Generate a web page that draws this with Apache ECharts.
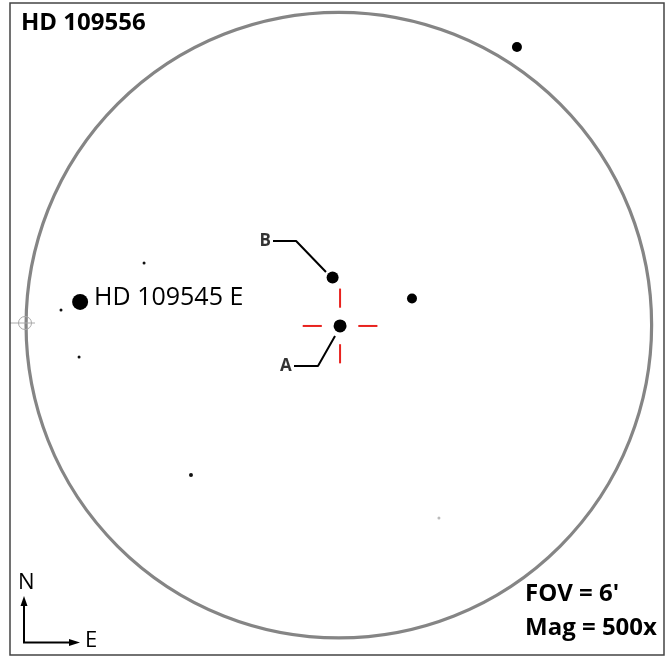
<!DOCTYPE html>
<html><head><meta charset="utf-8">
<script src="https://cdn.jsdelivr.net/npm/echarts@6/dist/echarts.min.js"></script>
<style>html,body{margin:0;padding:0;background:#fff}#c{width:669px;height:658px}</style>
</head><body><div id="c"></div>
<script>
// Star positions in arcseconds relative to the field centre (x: east, y: north)
const starNames = ['A', 'B', 'S3', 'S4', 'HD 109545 E', 's6', 's7', 's8', 's9', 's10'];
const starX = [0.7, -3.6, 42.1, 102.5, -148.9, -112.1, -159.9, -149.5, -85.1, 57.6];
const starY = [-0.5, 27.4, 15.3, 160.0, 13.3, 35.7, 8.7, -18.4, -86.3, -110.9];
const starSize = [13, 12, 10, 10, 16, 3, 3, 3, 4, 3];
const starColor = ['#000', '#000', '#000', '#000', '#000', '#111', '#111', '#111', '#111', '#bbb'];

// Field of view circle: centre and radius (arcsec), FOV = 6'
const fovCenter = [0, 0];
const fovRadius = 180;

// Crosshair centred on A: inner/outer offsets (arcsec)
const crossInner = 10.5;
const crossOuter = 21.5;

// Leader lines for labels
const leaderB = [[-37.9, 48.4], [-24.6, 48.4], [-7.4, 30.5]];
const leaderA = [[-25.8, -23.5], [-12.0, -23.5], [-2.2, -6.3]];
const labelPts = [[-38.5, 48.4, 'B'], [-26.5, -23.8, 'A']];

const chart = echarts.init(document.getElementById('c'), null, {renderer: 'canvas'});

const stars = starX.map((x, i) => ({
  value: [x, starY[i]],
  name: starNames[i],
  symbolSize: starSize[i],
  itemStyle: {color: starColor[i], opacity: 1},
  label: i === 4 ? {
    show: true, position: 'right', distance: 6, formatter: starNames[i],
    fontFamily: 'Open Sans', fontSize: 25, color: '#000', offset: [0, -4]
  } : {show: false}
}));

chart.setOption({
  animation: false,
  backgroundColor: '#fff',
  grid: {left: 0, right: 0, top: 0, bottom: 0},
  xAxis: {type: 'value', min: -195, max: 190, show: false},
  yAxis: {type: 'value', min: -191.5, max: 187, show: false},
  graphic: [
    {type: 'rect', shape: {x: 10, y: 3, width: 654, height: 652},
     style: {fill: 'none', stroke: '#444', lineWidth: 1.5}, z: 100},
    {type: 'line', shape: {x1: 10, y1: 323, x2: 35, y2: 323}, style: {stroke: '#aaa', lineWidth: 1}, z: 50},
    {type: 'circle', shape: {cx: 25, cy: 323, r: 6.5}, style: {fill: 'none', stroke: '#aaa', lineWidth: 1}, z: 50},
    {type: 'text', left: 21, top: 11, style: {text: 'HD 109556', font: 'bold 24px "Open Sans"', fill: '#000'}, z: 100},
    {type: 'text', left: 525, top: 582, style: {text: "FOV = 6'", font: 'bold 24px "Open Sans"', fill: '#000'}, z: 100},
    {type: 'text', left: 525, top: 616, style: {text: 'Mag = 500x', font: 'bold 24px "Open Sans"', fill: '#000'}, z: 100},
    {type: 'text', left: 18, top: 572, style: {text: 'N', font: '22px "Open Sans"', fill: '#000'}, z: 100},
    {type: 'text', left: 85, top: 630, style: {text: 'E', font: '22px "Open Sans"', fill: '#000'}, z: 100},
    {type: 'polyline', shape: {points: [[24, 604], [24, 642.5], [70, 642.5]]}, style: {stroke: '#000', lineWidth: 2, fill: 'none'}, z: 100},
    {type: 'polygon', shape: {points: [[24, 596], [20.5, 606], [27.5, 606]]}, style: {fill: '#000'}, z: 100},
    {type: 'polygon', shape: {points: [[80, 642.5], [69, 639], [69, 646]]}, style: {fill: '#000'}, z: 100}
  ],
  series: [
    {
      type: 'custom', silent: true, z: 1,
      data: [[fovCenter[0], fovCenter[1], fovRadius]],
      renderItem: (params, api) => {
        const c = api.coord([api.value(0), api.value(1)]);
        const s = api.size([api.value(2), api.value(2)]);
        return {type: 'circle', shape: {cx: c[0], cy: c[1], r: s[0]},
                style: {fill: 'none', stroke: '#858585', lineWidth: 3.2}};
      }
    },
    {
      type: 'custom', silent: true, z: 2,
      data: [[starX[0], starY[0], crossInner, crossOuter]],
      renderItem: (params, api) => {
        const x = api.value(0), y = api.value(1), a = api.value(2), b = api.value(3);
        const seg = (p1, p2) => {
          const c1 = api.coord(p1), c2 = api.coord(p2);
          return {type: 'line', shape: {x1: c1[0], y1: c1[1], x2: c2[0], y2: c2[1]},
                  style: {stroke: '#e8221e', lineWidth: 2}};
        };
        return {type: 'group', children: [
          seg([x, y + a], [x, y + b]), seg([x, y - a], [x, y - b]),
          seg([x - a, y], [x - b, y]), seg([x + a, y], [x + b, y])
        ]};
      }
    },
    {type: 'line', data: leaderB, symbol: 'none', z: 3, lineStyle: {color: '#000', width: 2}},
    {type: 'line', data: leaderA, symbol: 'none', z: 3, lineStyle: {color: '#000', width: 2}},
    {type: 'scatter', data: stars, symbol: 'circle', z: 5},
    {
      type: 'scatter', data: labelPts, symbolSize: 0, z: 5,
      label: {show: true, position: 'left', distance: 1, formatter: p => p.value[2],
              fontFamily: 'Open Sans', fontWeight: 'bold', fontSize: 17, color: '#000'}
    }
  ]
});
</script></body></html>
